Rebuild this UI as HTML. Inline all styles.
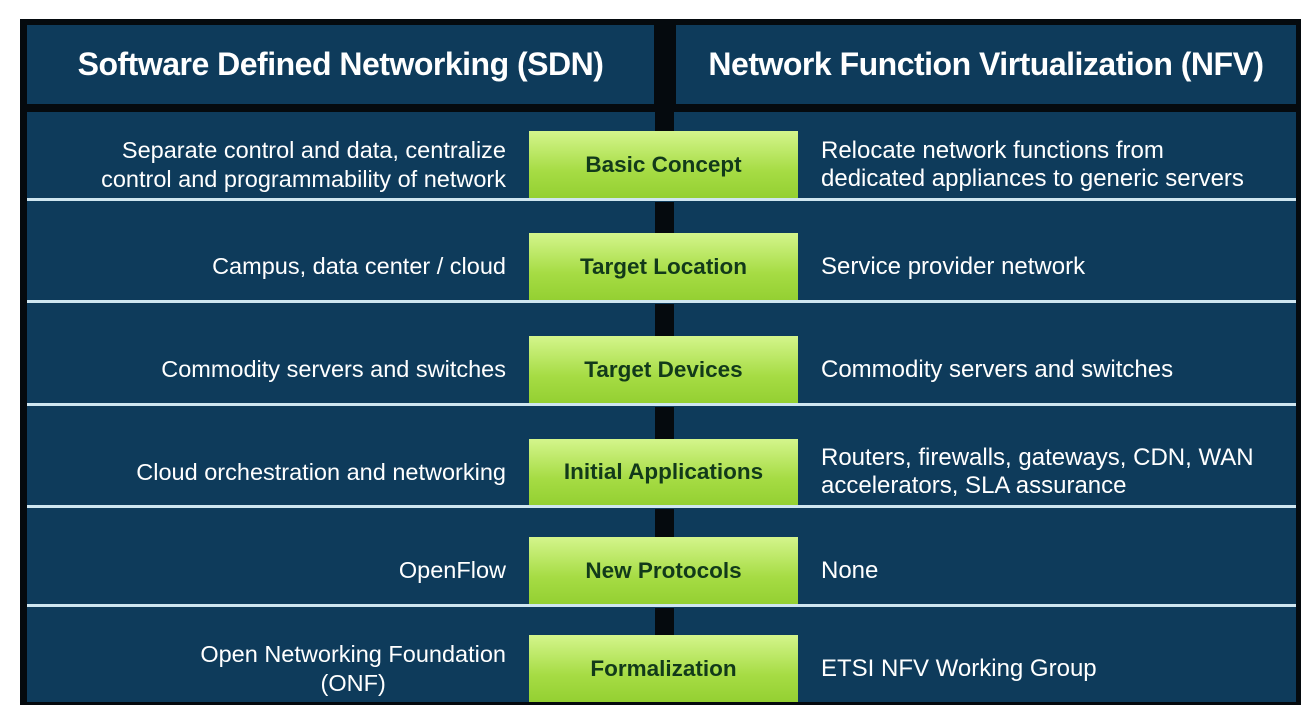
<!DOCTYPE html>
<html><head><style>
body{margin:0;width:1311px;height:715px;background:#fff;position:relative;overflow:hidden;font-family:"Liberation Sans",sans-serif}
.a{position:absolute}
.frame{left:20px;top:19px;width:1281px;height:686px;background:#050a0e}
.hd{top:25px;height:79px;background:#0e3b5b;color:#fff;font-weight:bold;font-size:32px;display:flex;align-items:center;justify-content:center;letter-spacing:-0.5px}
.row{left:27px;width:1269px;background:#0e3b5b}
.sep{left:27px;width:1269px;height:3px;background:#cfe6f0}
.bar{left:655px;width:19px;background:#050a0e}
.g{left:529px;width:269px;background:linear-gradient(#d4f58c,#a6dc44 60%,#94d032);color:#123a1a;font-weight:bold;font-size:22.5px;display:flex;align-items:center;justify-content:center}
.l{left:30px;width:476px;text-align:right;color:#fff;font-size:23.5px;line-height:29px;display:flex;align-items:center;justify-content:flex-end;white-space:nowrap}
.r{left:821px;width:470px;color:#fff;font-size:24px;line-height:28px;display:flex;align-items:center;white-space:nowrap}
</style></head><body>
<div class="a frame"></div>
<div class="a hd" style="left:27px;width:627px">Software Defined Networking (SDN)</div>
<div class="a hd" style="left:676px;width:620px">Network Function Virtualization (NFV)</div>
<div class="a row" style="top:112px;height:590px"></div>
<div class="a bar" style="top:112px;height:20px"></div>
<div class="a bar" style="top:202px;height:32px"></div>
<div class="a bar" style="top:304px;height:33px"></div>
<div class="a bar" style="top:407px;height:33px"></div>
<div class="a bar" style="top:509px;height:29px"></div>
<div class="a bar" style="top:608px;height:28px"></div>
<div class="a sep" style="top:198px"></div>
<div class="a sep" style="top:300px"></div>
<div class="a sep" style="top:403px"></div>
<div class="a sep" style="top:505px"></div>
<div class="a sep" style="top:604px"></div>
<div class="a g" style="top:131px;height:67px">Basic Concept</div>
<div class="a g" style="top:233px;height:67px">Target Location</div>
<div class="a g" style="top:336px;height:67px">Target Devices</div>
<div class="a g" style="top:439px;height:66px">Initial Applications</div>
<div class="a g" style="top:537px;height:67px">New Protocols</div>
<div class="a g" style="top:635px;height:67px">Formalization</div>
<div class="a l" style="top:131px;height:67px">Separate control and data, centralize<br>control and programmability of network</div>
<div class="a l" style="top:233px;height:67px">Campus, data center / cloud</div>
<div class="a l" style="top:336px;height:67px">Commodity servers and switches</div>
<div class="a l" style="top:439px;height:66px">Cloud orchestration and networking</div>
<div class="a l" style="top:537px;height:67px">OpenFlow</div>
<div class="a l" style="top:635px;height:67px;text-align:center">Open Networking Foundation<br>(ONF)</div>
<div class="a r" style="top:131px;height:67px">Relocate network functions from<br>dedicated appliances to generic servers</div>
<div class="a r" style="top:233px;height:67px">Service provider network</div>
<div class="a r" style="top:336px;height:67px">Commodity servers and switches</div>
<div class="a r" style="top:439px;height:66px">Routers, firewalls, gateways, CDN, WAN<br>accelerators, SLA assurance</div>
<div class="a r" style="top:537px;height:67px">None</div>
<div class="a r" style="top:635px;height:67px">ETSI NFV Working Group</div>
</body></html>
